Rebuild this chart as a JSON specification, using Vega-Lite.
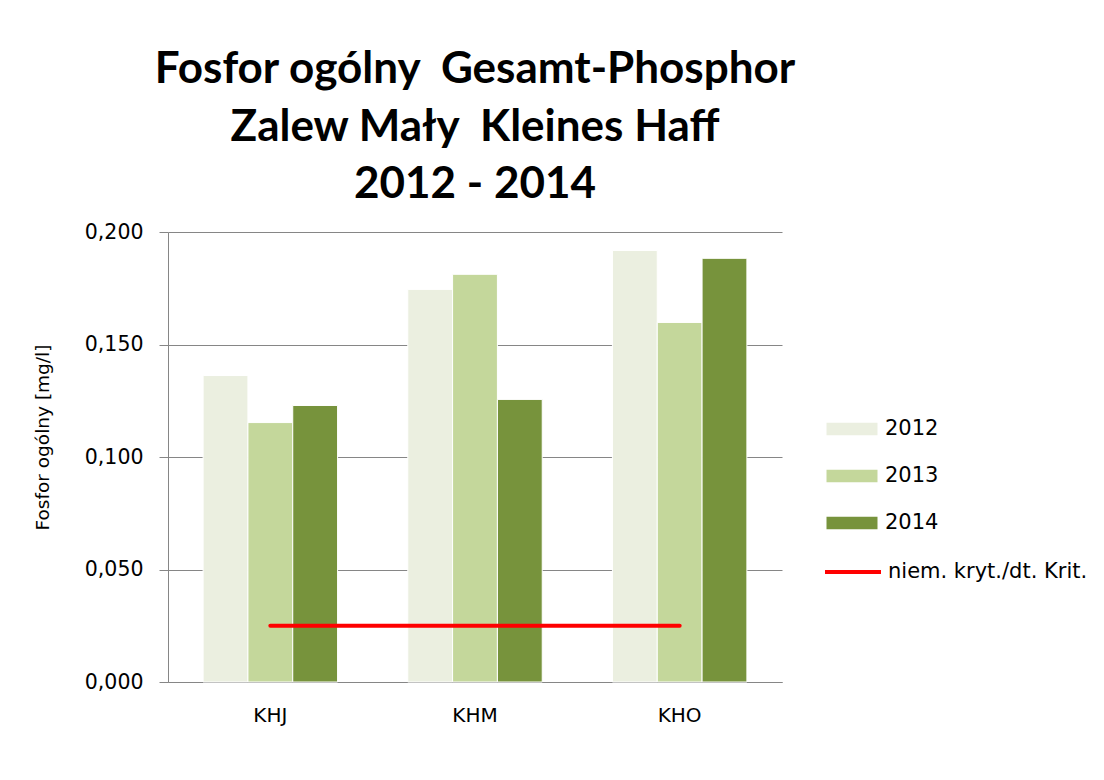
{
  "$schema": "https://vega.github.io/schema/vega-lite/v6.json",
  "width": 614,
  "height": 450,
  "autosize": "none",
  "padding": {"left": 168, "top": 232, "right": 322, "bottom": 98},
  "background": "white",
  "title": {
    "text": ["Fosfor ogólny \u00a0Gesamt-Phosphor", "Zalew Mały \u00a0Kleines Haff", "2012 - 2014"],
    "font": "Lato",
    "fontSize": 44,
    "fontWeight": "bold",
    "lineHeight": 57.5,
    "anchor": "middle",
    "color": "#000000",
    "offset": 15
  },
  "datasets": {
    "bars": [
      {"station": "KHJ", "year": "2012", "value": 0.1362},
      {"station": "KHJ", "year": "2013", "value": 0.1153},
      {"station": "KHJ", "year": "2014", "value": 0.1229},
      {"station": "KHM", "year": "2012", "value": 0.1745},
      {"station": "KHM", "year": "2013", "value": 0.1812},
      {"station": "KHM", "year": "2014", "value": 0.1256},
      {"station": "KHO", "year": "2012", "value": 0.1918},
      {"station": "KHO", "year": "2013", "value": 0.1598},
      {"station": "KHO", "year": "2014", "value": 0.1883}
    ],
    "krit": [
      {"station": "KHJ", "series": "niem. kryt./dt. Krit.", "value": 0.025},
      {"station": "KHM", "series": "niem. kryt./dt. Krit.", "value": 0.025},
      {"station": "KHO", "series": "niem. kryt./dt. Krit.", "value": 0.025}
    ]
  },
  "layer": [
    {
      "data": {"name": "bars"},
      "mark": {"type": "bar", "stroke": "white", "strokeWidth": 1},
      "encoding": {
        "x": {
          "field": "station",
          "type": "nominal",
          "scale": {"paddingInner": 0.343, "paddingOuter": 0.1715},
          "axis": {
            "title": null,
            "labelAngle": 0,
            "ticks": false,
            "domain": true,
            "domainColor": "#868686",
            "labelFont": "DejaVu Sans",
            "labelFontSize": 20,
            "labelColor": "#000000",
            "labelPadding": 23
          }
        },
        "xOffset": {"field": "year", "type": "nominal", "scale": {"paddingInner": 0}},
        "y": {
          "field": "value",
          "type": "quantitative",
          "scale": {"domain": [0, 0.2], "nice": false},
          "axis": {
            "title": "Fosfor ogólny [mg/l]",
            "titleFont": "DejaVu Sans",
            "titleFontSize": 18.5,
            "titleFontWeight": "normal",
            "titleColor": "#000000",
            "titleX": -126,
            "titleY": 205,
            "titleBaseline": "middle",
            "titleAlign": "center",
            "titleAngle": -90,
            "values": [0, 0.05, 0.1, 0.15, 0.2],
            "labelExpr": "replace(format(datum.value, '.3f'), '.', ',')",
            "labelFont": "DejaVu Sans",
            "labelFontSize": 20.5,
            "labelColor": "#000000",
            "labelPadding": 16,
            "tickSize": 9,
            "tickColor": "#868686",
            "domainColor": "#868686",
            "grid": true,
            "gridColor": "#868686",
            "gridWidth": 1
          }
        },
        "fill": {
          "field": "year",
          "type": "nominal",
          "scale": {"domain": ["2012", "2013", "2014"], "range": ["#EBEFE0", "#C4D79B", "#77933C"]},
          "legend": {
            "title": null,
            "orient": "none",
            "legendX": 671,
            "legendY": 184,
            "symbolType": "M-2,-0.5H2V0.5H-2Z",
            "symbolSize": 650,
            "symbolStrokeWidth": 0,
            "rowPadding": 24,
            "labelOffset": 20,
            "labelFont": "DejaVu Sans",
            "labelFontSize": 21,
            "labelColor": "#000000"
          }
        }
      }
    },
    {
      "data": {"name": "krit"},
      "mark": {"type": "line", "strokeWidth": 4, "strokeCap": "round"},
      "encoding": {
        "x": {"field": "station", "type": "nominal"},
        "y": {"field": "value", "type": "quantitative"},
        "stroke": {
          "field": "series",
          "type": "nominal",
          "scale": {"range": ["#FF0000"]},
          "legend": {
            "title": null,
            "orient": "none",
            "legendX": 669,
            "legendY": 324,
            "symbolType": "M-2,0H2",
            "symbolSize": 784,
            "symbolStrokeWidth": 4,
            "labelOffset": 19,
            "labelLimit": 400,
            "labelFont": "DejaVu Sans",
            "labelFontSize": 21,
            "labelColor": "#000000"
          }
        }
      }
    }
  ],
  "config": {
    "view": {"stroke": null}
  }
}
